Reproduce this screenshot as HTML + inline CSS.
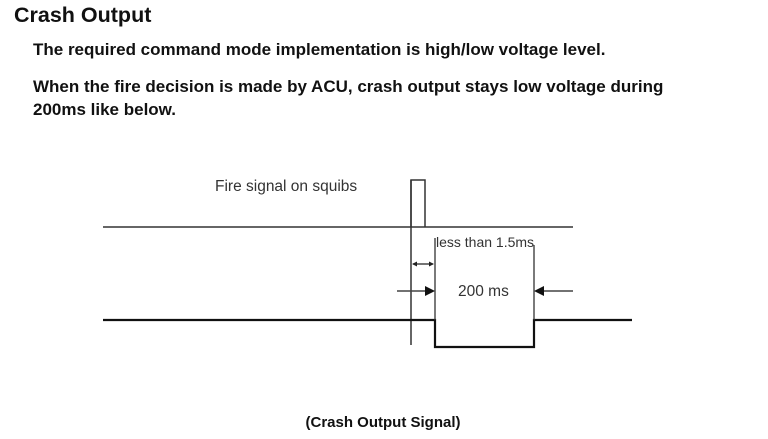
<!DOCTYPE html>
<html><head><meta charset="utf-8"><style>
html,body{margin:0;padding:0;background:#fff;}
body{width:768px;height:439px;position:relative;overflow:hidden;font-family:"Liberation Sans",Arial,sans-serif;color:#111;}
.t{position:absolute;white-space:nowrap;font-weight:bold;}
</style></head><body>
<div class="t" style="left:14px;top:3px;font-size:21.5px;">Crash Output</div>
<div class="t" style="left:33px;top:40px;font-size:17px;">The required command mode implementation is high/low voltage level.</div>
<div class="t" style="left:33px;top:77px;font-size:17px;">When the fire decision is made by ACU, crash output stays low voltage during</div>
<div class="t" style="left:33px;top:100px;font-size:17px;">200ms like below.</div>
<svg width="768" height="439" style="position:absolute;left:0;top:0" xmlns="http://www.w3.org/2000/svg">
<g fill="none" stroke-linecap="butt">
<line x1="103" y1="227" x2="573" y2="227" stroke="#666" stroke-width="2"/>
<polyline points="411,227 411,180 425,180 425,227" stroke="#333" stroke-width="1.5"/>
<line x1="411" y1="180" x2="411" y2="345" stroke="#333" stroke-width="1.5"/>
<polyline points="103,320 435,320 435,347 534,347 534,320 632,320" stroke="#111" stroke-width="2.2"/>
<line x1="435" y1="238" x2="435" y2="320" stroke="#333" stroke-width="1.3"/>
<line x1="534" y1="245" x2="534" y2="320" stroke="#333" stroke-width="1.3"/>
<line x1="413" y1="264" x2="433" y2="264" stroke="#222" stroke-width="1.2"/>
<line x1="397" y1="291" x2="426" y2="291" stroke="#444" stroke-width="1.5"/>
<line x1="543" y1="291" x2="573" y2="291" stroke="#444" stroke-width="1.5"/>
</g>
<polygon points="412,264 417,261.5 417,266.5" fill="#222"/>
<polygon points="434,264 429,261.5 429,266.5" fill="#222"/>
<polygon points="435,291 425,286 425,296" fill="#111"/>
<polygon points="534,291 544,286 544,296" fill="#111"/>
<text x="215" y="191" font-family="Liberation Sans,Arial,sans-serif" font-size="15.5" fill="#333">Fire signal on squibs</text>
<text x="436" y="247" font-family="Liberation Sans,Arial,sans-serif" font-size="14" fill="#333">less than 1.5ms</text>
<text x="458" y="296" font-family="Liberation Sans,Arial,sans-serif" font-size="15.5" fill="#333">200 ms</text>
<text x="383" y="427" text-anchor="middle" font-family="Liberation Sans,Arial,sans-serif" font-size="15" font-weight="bold" fill="#111">(Crash Output Signal)</text>
</svg>
</body></html>
